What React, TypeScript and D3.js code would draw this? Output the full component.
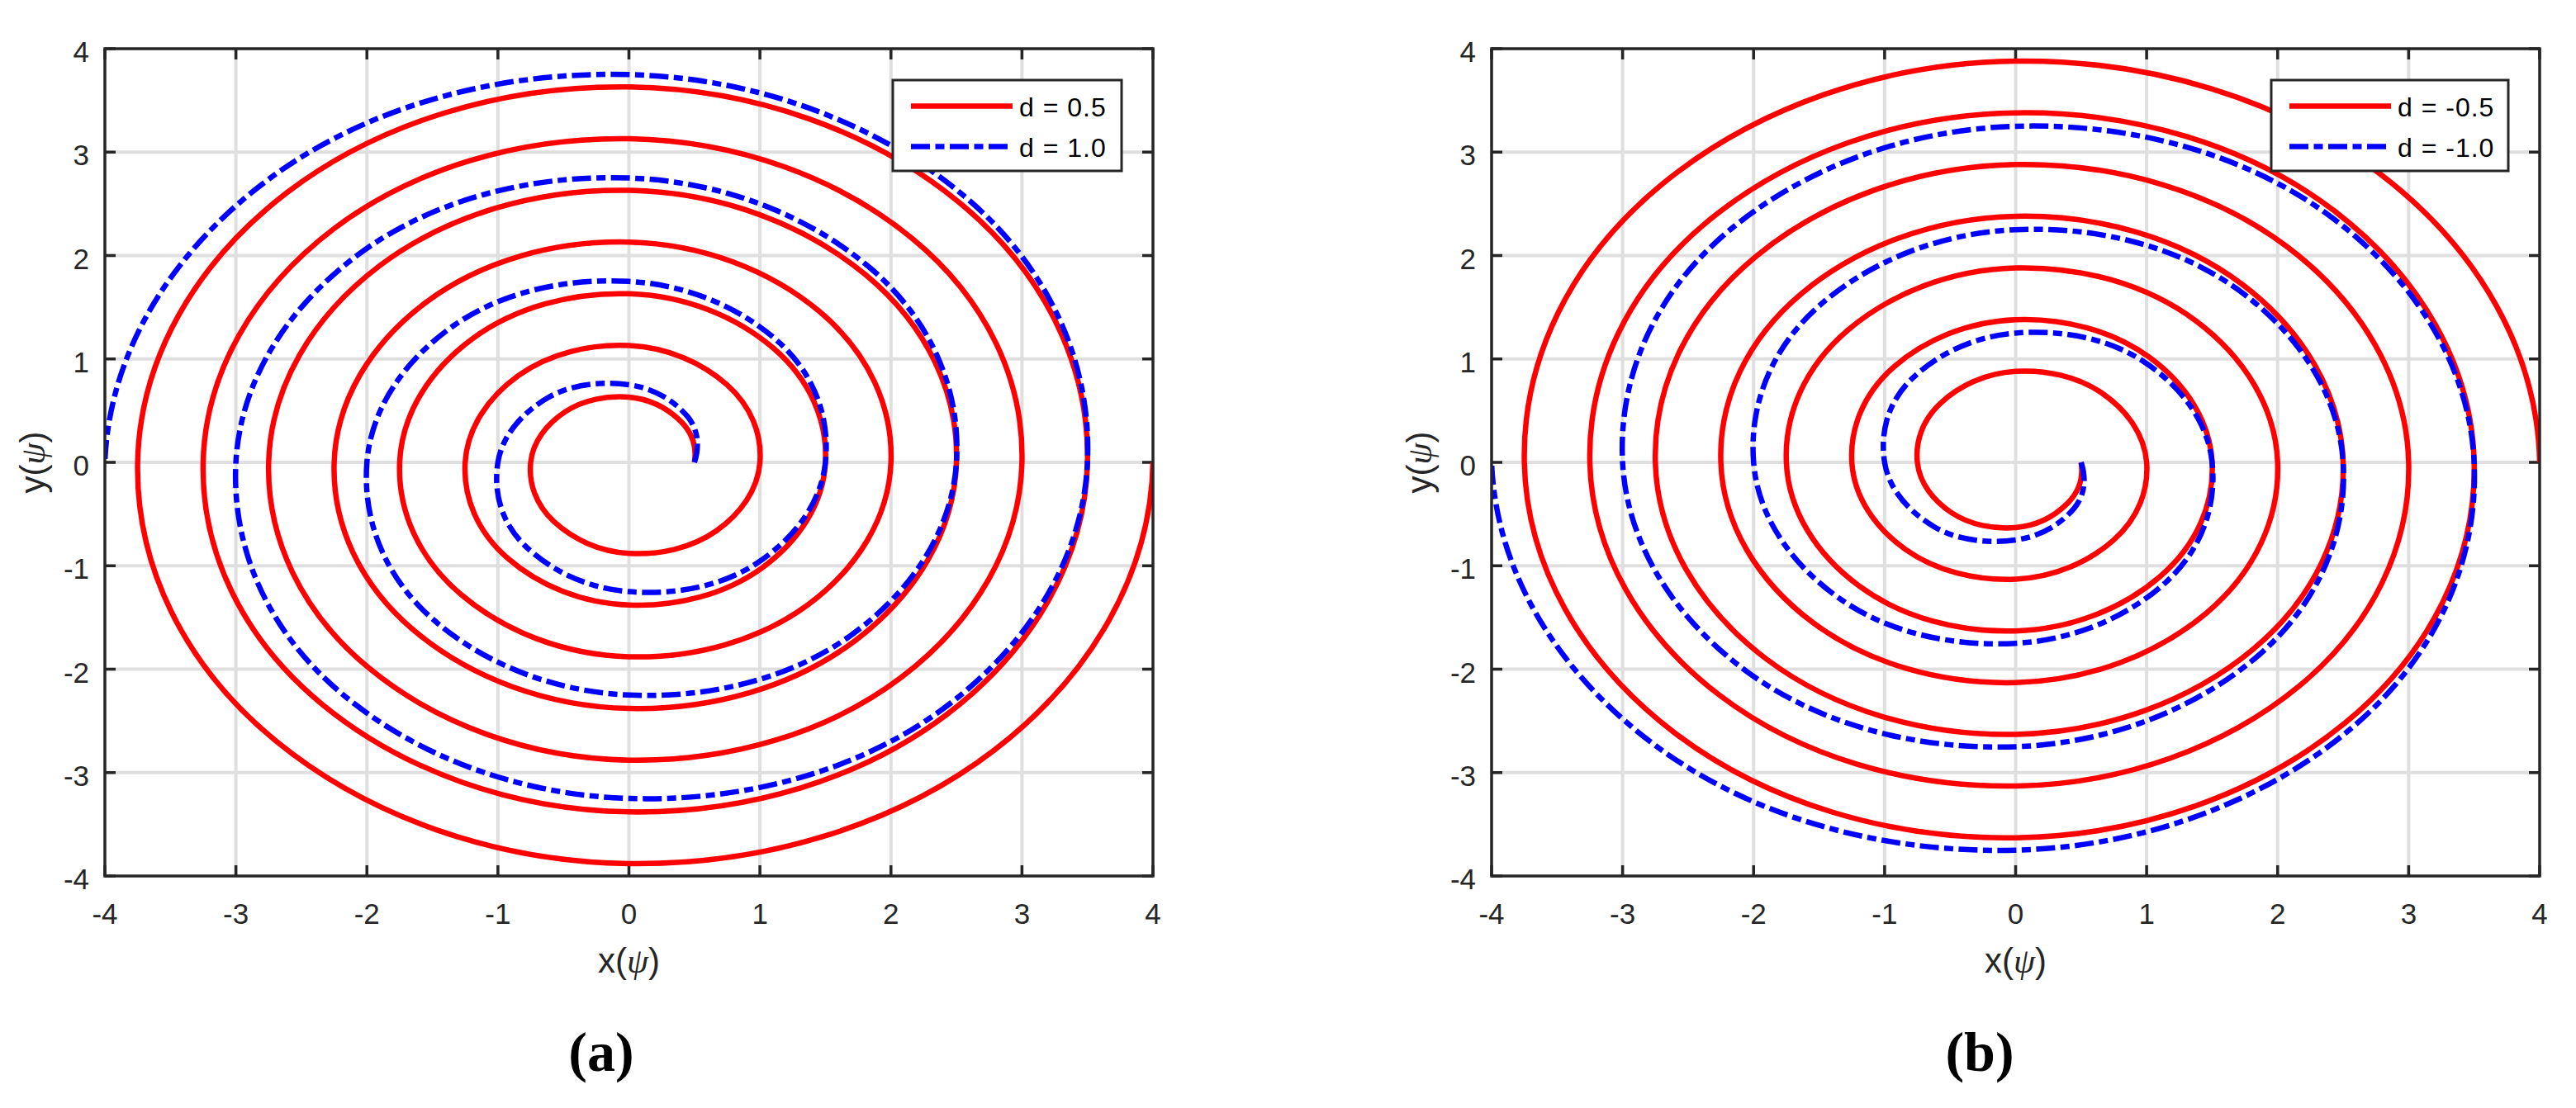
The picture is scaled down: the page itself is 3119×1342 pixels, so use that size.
import { useEffect, useRef } from 'react';
import * as d3 from 'd3';

// spiral radius read every 45 degrees, starting from the point (0.5, 0)
const radiusHalfStep = [
  0.5, 0.56, 0.63, 0.69, 0.75, 0.81, 0.88, 0.94,
  1.0, 1.06, 1.13, 1.19, 1.25, 1.31, 1.38, 1.44,
  1.5, 1.56, 1.63, 1.69, 1.75, 1.81, 1.88, 1.94,
  2.0, 2.06, 2.13, 2.19, 2.25, 2.31, 2.38, 2.44,
  2.5, 2.56, 2.63, 2.69, 2.75, 2.81, 2.88, 2.94,
  3.0, 3.06, 3.13, 3.19, 3.25, 3.31, 3.38, 3.44,
  3.5, 3.56, 3.63, 3.69, 3.75, 3.81, 3.88, 3.94,
  4.0,
];
const radiusFullStep = [
  0.5, 0.63, 0.75, 0.88, 1.0, 1.13, 1.25, 1.38,
  1.5, 1.63, 1.75, 1.88, 2.0, 2.13, 2.25, 2.38,
  2.5, 2.63, 2.75, 2.88, 3.0, 3.13, 3.25, 3.38,
  3.5, 3.63, 3.75, 3.88, 4.0,
];

const xTicks = [-4, -3, -2, -1, 0, 1, 2, 3, 4];
const yTicks = [-4, -3, -2, -1, 0, 1, 2, 3, 4];

const panelNames = ['(a)', '(b)'];
const legendA = ['d = 0.5', 'd = 1.0'];
const legendB = ['d = -0.5', 'd = -1.0'];
// d > 0 turns counter-clockwise, d < 0 clockwise
const turnDirection = [1, -1];

const WIDTH = 3119, HEIGHT = 1342;
const TOP = 59, BOTTOM = 1061, PLOT_W = 1269;
const AXIS_COLOR = '#262626';
const DASH = '23 6.5 11 6.5';
const SANS = '"Liberation Sans", Arial, Helvetica, sans-serif';
const SERIF = '"Liberation Serif", "Times New Roman", serif';
const STEP = Math.PI / 4;

function polar(r: number, i: number, dir: number): [number, number] {
  const a = dir * i * STEP;
  return [r * Math.cos(a), r * Math.sin(a)];
}

// cardinal spline through the read points; one guide point past each end
// only sets the end tangents and is not drawn
function spiralPath(radii: number[], dir: number, x: any, y: any) {
  const n = radii.length;
  const pts = radii.map((r, i) => polar(r, i, dir));
  const before = polar(2 * radii[0] - radii[1], -1, dir);
  const after = polar(2 * radii[n - 1] - radii[n - 2], n, dir);
  const all = [before, ...pts, after].map(([a, b]) => [x(a), y(b)]);
  const k = (1 + 0.125) / 6;
  const p = d3.path();
  p.moveTo(all[1][0], all[1][1]);
  for (let i = 1; i < all.length - 2; i++) {
    const p0 = all[i - 1], p1 = all[i], p2 = all[i + 1], p3 = all[i + 2];
    p.bezierCurveTo(
      p1[0] + k * (p2[0] - p0[0]), p1[1] + k * (p2[1] - p0[1]),
      p2[0] - k * (p3[0] - p1[0]), p2[1] - k * (p3[1] - p1[1]),
      p2[0], p2[1]
    );
  }
  return p.toString();
}

function drawPanel(svg: any, idx: number, left: number, captionX: number, legend: string[], legendWidth: number) {
  const x = d3.scaleLinear().domain([-4, 4]).range([left, left + PLOT_W]);
  const y = d3.scaleLinear().domain([-4, 4]).range([BOTTOM, TOP]);
  const g = svg.append('g');
  const clipId = 'clip-' + idx;

  g.append('clipPath').attr('id', clipId)
    .append('rect')
    .attr('x', x(-4)).attr('y', y(4))
    .attr('width', x(4) - x(-4)).attr('height', y(-4) - y(4));

  // grid
  g.append('g').selectAll('line').data(xTicks.slice(1, -1)).enter().append('line')
    .attr('x1', d => x(d)).attr('x2', d => x(d))
    .attr('y1', y(4)).attr('y2', y(-4))
    .attr('stroke', '#dfdfdf').attr('stroke-width', 4);
  g.append('g').selectAll('line').data(yTicks.slice(1, -1)).enter().append('line')
    .attr('y1', d => y(d)).attr('y2', d => y(d))
    .attr('x1', x(-4)).attr('x2', x(4))
    .attr('stroke', '#dfdfdf').attr('stroke-width', 4);

  // ticks on all four sides, pointing inward
  const tl = 13;
  const ticks = g.append('g').attr('stroke', AXIS_COLOR).attr('stroke-width', 3.5);
  xTicks.forEach(t => {
    ticks.append('line').attr('x1', x(t)).attr('x2', x(t)).attr('y1', y(-4)).attr('y2', y(-4) - tl);
    ticks.append('line').attr('x1', x(t)).attr('x2', x(t)).attr('y1', y(4)).attr('y2', y(4) + tl);
  });
  yTicks.forEach(t => {
    ticks.append('line').attr('y1', y(t)).attr('y2', y(t)).attr('x1', x(-4)).attr('x2', x(-4) + tl);
    ticks.append('line').attr('y1', y(t)).attr('y2', y(t)).attr('x1', x(4)).attr('x2', x(4) - tl);
  });

  const series = g.append('g').attr('clip-path', `url(#${clipId})`).attr('fill', 'none');
  series.append('path')
    .attr('d', spiralPath(radiusHalfStep, turnDirection[idx], x, y))
    .attr('stroke', '#ff0000').attr('stroke-width', 6.5);
  series.append('path')
    .attr('d', spiralPath(radiusFullStep, turnDirection[idx], x, y))
    .attr('stroke', '#0000ff').attr('stroke-width', 6.5)
    .attr('stroke-dasharray', DASH);

  // box
  g.append('rect')
    .attr('x', x(-4)).attr('y', y(4))
    .attr('width', x(4) - x(-4)).attr('height', y(-4) - y(4))
    .attr('fill', 'none').attr('stroke', AXIS_COLOR).attr('stroke-width', 3.5);

  // tick labels
  g.append('g').selectAll('text').data(xTicks).enter().append('text')
    .attr('x', d => x(d)).attr('y', y(-4) + 58)
    .attr('text-anchor', 'middle')
    .attr('font-family', SANS).attr('font-size', 35).attr('fill', AXIS_COLOR)
    .text(d => String(d));
  g.append('g').selectAll('text').data(yTicks).enter().append('text')
    .attr('x', x(-4) - 19).attr('y', d => y(d) + 16)
    .attr('text-anchor', 'end')
    .attr('font-family', SANS).attr('font-size', 35).attr('fill', AXIS_COLOR)
    .text(d => String(d));

  // axis labels
  const xl = g.append('text')
    .attr('x', x(0)).attr('y', 1178)
    .attr('text-anchor', 'middle')
    .attr('font-family', SANS).attr('font-size', 42).attr('fill', AXIS_COLOR);
  xl.append('tspan').text('x(');
  xl.append('tspan').attr('font-family', SERIF).attr('font-style', 'italic').text('ψ');
  xl.append('tspan').text(')');

  const yl = g.append('text')
    .attr('transform', `translate(${x(-4) - 73}, ${y(0)}) rotate(-90)`)
    .attr('text-anchor', 'middle')
    .attr('font-family', SANS).attr('font-size', 42).attr('fill', AXIS_COLOR);
  yl.append('tspan').text('y(');
  yl.append('tspan').attr('font-family', SERIF).attr('font-style', 'italic').text('ψ');
  yl.append('tspan').text(')');

  // legend
  const boxRight = x(4) - 38;
  const boxLeft = boxRight - legendWidth;
  const boxTop = 97;
  const lg = g.append('g');
  lg.append('rect')
    .attr('x', boxLeft).attr('y', boxTop)
    .attr('width', legendWidth).attr('height', 110)
    .attr('fill', '#ffffff').attr('stroke', AXIS_COLOR).attr('stroke-width', 3);
  const rows = [
    { color: '#ff0000', dash: null, dy: 31.5 },
    { color: '#0000ff', dash: DASH, dy: 80.5 },
  ];
  rows.forEach((row, i) => {
    lg.append('line')
      .attr('x1', boxLeft + 22).attr('x2', boxLeft + 145)
      .attr('y1', boxTop + row.dy).attr('y2', boxTop + row.dy)
      .attr('stroke', row.color).attr('stroke-width', 6.5)
      .attr('stroke-dasharray', row.dash);
    lg.append('text')
      .attr('x', boxLeft + 153).attr('y', boxTop + row.dy + 12)
      .attr('font-family', SANS).attr('font-size', 32).attr('letter-spacing', 1)
      .attr('fill', '#000000')
      .text(legend[i]);
  });

  // caption
  g.append('text')
    .attr('x', captionX).attr('y', 1297)
    .attr('text-anchor', 'middle')
    .attr('font-family', SERIF).attr('font-weight', 'bold').attr('font-size', 68)
    .attr('fill', '#000000')
    .text(panelNames[idx]);
}

const App = () => {
  const ref = useRef<SVGSVGElement>(null);

  useEffect(() => {
    const svg = d3.select(ref.current);
    svg.selectAll('*').remove();
    drawPanel(svg, 0, 127, 728, legendA, 277);
    drawPanel(svg, 1, 1806, 2397, legendB, 287);
  }, []);

  return (
    <svg
      ref={ref}
      width={WIDTH}
      height={HEIGHT}
      style={{ position: 'absolute', left: 0, top: 0, background: '#ffffff' }}
    />
  );
};

export default App;
